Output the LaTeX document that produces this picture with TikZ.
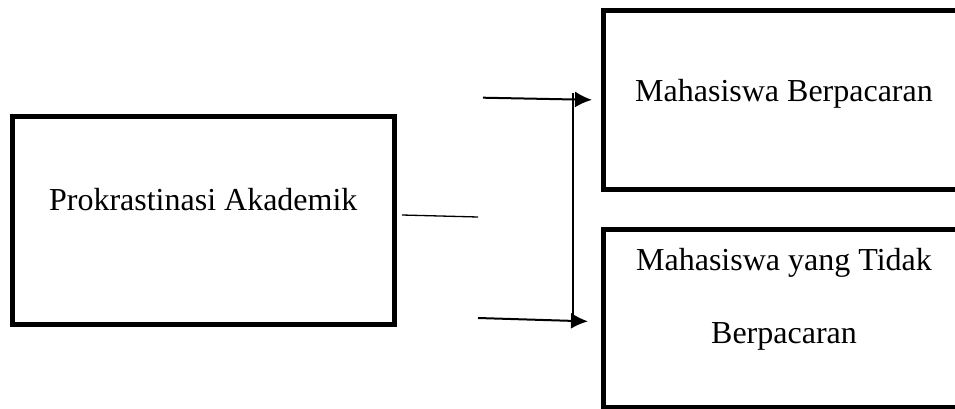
\documentclass[tikz,border=0pt]{standalone}
\usepackage{fontspec}
\setmainfont{Liberation Serif}
\usetikzlibrary{positioning,arrows.meta}
\tikzset{>={Latex[length=17pt,width=16pt]}}

\begin{document}
\begin{tikzpicture}[x=1pt,y=1pt]
      \clip (0,0) rectangle (955,408);
      \node[draw, line width=5pt, minimum width=382.5pt, minimum height=208pt] (n0) at (203.25,187.5) {};
      \node[draw, line width=5pt, minimum width=362pt, minimum height=179pt] (n1) at (784,308) {};
      \node[draw, line width=5pt, minimum width=362pt, minimum height=177.5pt] (n2) at (784,89.75) {};
      \node[anchor=base, inner sep=0pt, font=\fontsize{32}{38}\selectfont] (t0) at ([yshift=10.5pt]n0.center) {Prokrastinasi Akademik};
      \node[anchor=base, inner sep=0pt, font=\fontsize{32}{38}\selectfont] (t1) at ([yshift=-1pt]n1.center) {Mahasiswa Berpacaran};
      \node[anchor=base, inner sep=0pt, align=center, font=\fontsize{32}{73}\selectfont] (t2) at ([yshift=-24.75pt]n2.center) {Mahasiswa yang Tidak\\Berpacaran};
      \coordinate (aux1) at (478,191);
      \coordinate (aux2) at (483,310.3);
      \coordinate (aux3) at (478,90);
      \coordinate (aux4) at (572.7,315);
      \coordinate (aux5) at (572.7,90);
      \draw[line width=1.3pt] ([xshift=5pt,yshift=5.5pt]n0.east) to (aux1);
      \draw[->, line width=2pt, shorten >=8.5pt] (aux2) to (n1.west);
      \draw[->, line width=2pt, shorten >=12.5pt] (aux3) to ([yshift=-3.5pt]n2.west);
      \draw[line width=2pt] (aux4) to (aux5);
\end{tikzpicture}
\end{document}
